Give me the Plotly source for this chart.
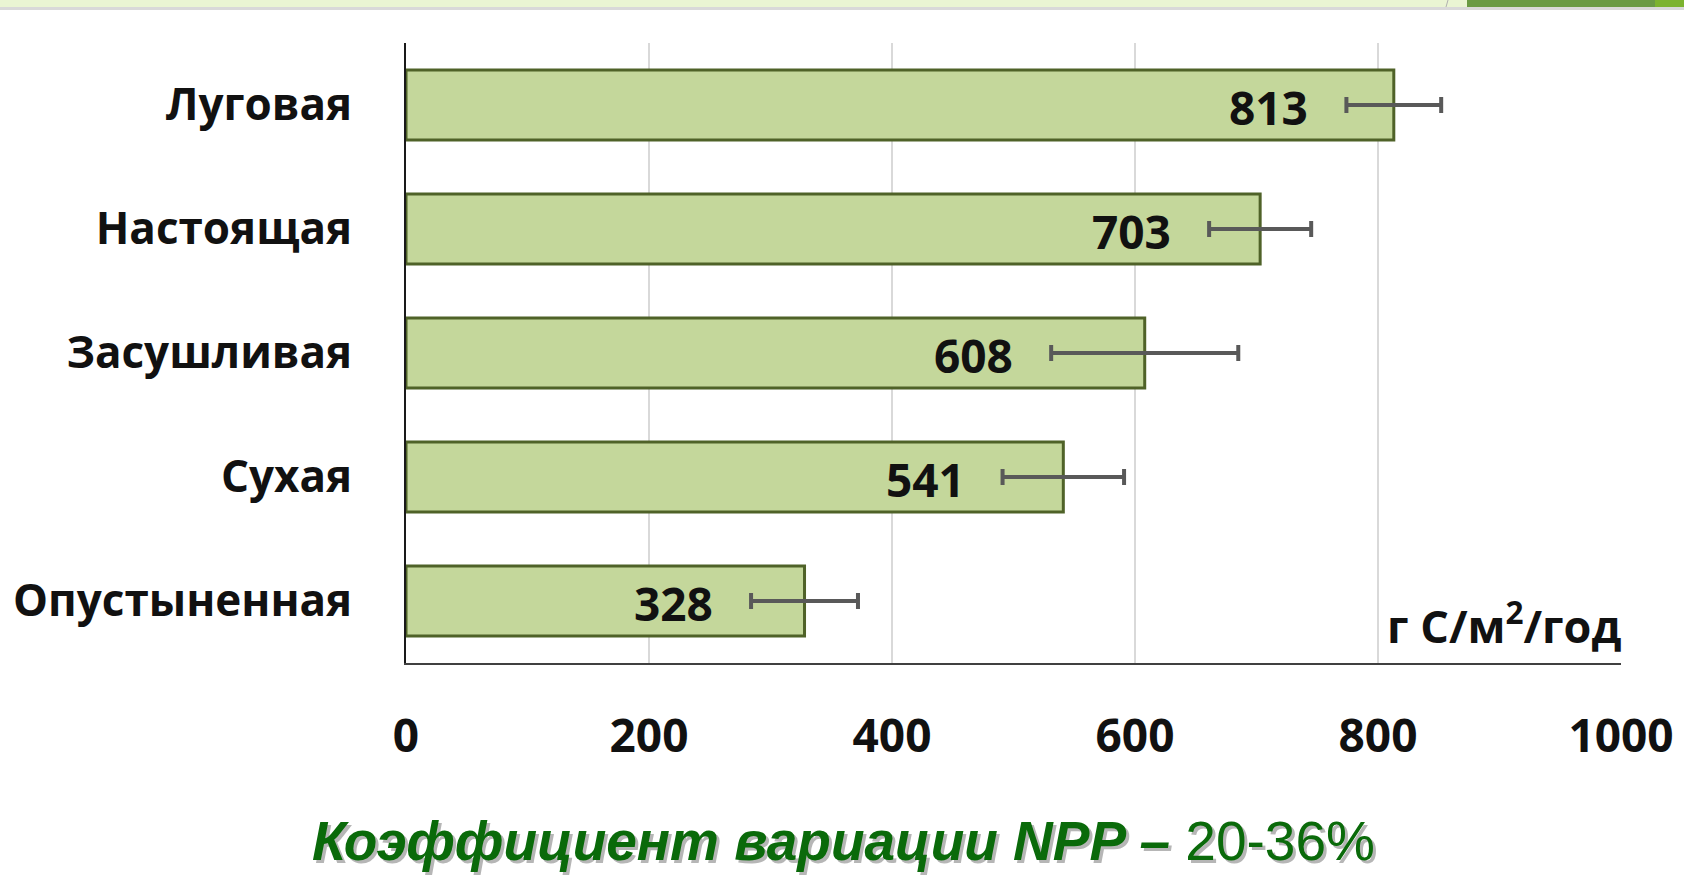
import plotly.graph_objects as go

categories = ["Луговая", "Настоящая", "Засушливая", "Сухая", "Опустыненная"]
npp_values = [813, 703, 608, 541, 328]
npp_errors = [39, 42, 77, 50, 44]
x_ticks = [0, 200, 400, 600, 800, 1000]
unit_label = "г С/м<sup>2</sup>/год"
caption_main = "Коэффициент вариации NPP –"
caption_range = "20-36%"

W, H = 1684, 879
L, R, T, B = 406, 63, 43, 216

FONT = "Open Sans"

fig = go.Figure()
fig.add_trace(go.Bar(
    y=categories,
    x=npp_values,
    orientation="h",
    marker=dict(color="#C4D79B", line=dict(color="#4F6228", width=3)),
    error_x=dict(type="data", array=npp_errors, visible=True,
                 color="#595959", thickness=4, width=8),
    hoverinfo="x+y",
))

# value labels, placed just left of the lower error bar cap
for c, v, e in zip(categories, npp_values, npp_errors):
    fig.add_annotation(
        x=v - e, y=c, xref="x", yref="y",
        text=f"<b>{v}</b>", showarrow=False,
        xanchor="right", yanchor="middle", xshift=-36, yshift=-2,
        font=dict(family=FONT, size=46, color="#111111"),
    )

# unit label
fig.add_annotation(
    x=1, y=0, xref="paper", yref="paper",
    text=f"<b>{unit_label}</b>", showarrow=False,
    xanchor="right", yanchor="bottom", yshift=5, xshift=2,
    font=dict(family=FONT, size=45, color="#111111"),
)

# caption with shadow
cap_text = f"<b><i>{caption_main}</i></b> {caption_range}"
cy = 1 - (841 - T) / (H - T - B)
cx = (843 - L) / (W - L - R)
fig.add_annotation(
    x=cx, y=cy, xref="paper", yref="paper", text=cap_text, showarrow=False,
    xanchor="center", yanchor="middle", xshift=3, yshift=-3,
    font=dict(family="Liberation Sans", size=55, color="rgba(110,110,110,0.5)"),
)
fig.add_annotation(
    x=cx, y=cy, xref="paper", yref="paper", text=cap_text, showarrow=False,
    xanchor="center", yanchor="middle",
    font=dict(family="Liberation Sans", size=55, color="#0A6A0A"),
)

# decorative header band
pw = W - L - R
ph = H - T - B
shapes = [
    dict(type="rect", xref="paper", yref="paper",
         x0=-L / pw, x1=1 + R / pw,
         y0=1 + (T - 7) / ph, y1=1 + T / ph,
         fillcolor="#EAF5D3", line=dict(width=0), layer="below"),
    dict(type="rect", xref="paper", yref="paper",
         x0=-L / pw, x1=1 + R / pw,
         y0=1 + (T - 10) / ph, y1=1 + (T - 7) / ph,
         fillcolor="#D9D9D9", line=dict(width=0), layer="below"),
    dict(type="line", xref="paper", yref="paper",
         x0=(1446 - L) / pw, x1=(1448 - L) / pw,
         y0=1 + (T - 7) / ph, y1=1 + T / ph,
         line=dict(color="#B0B0B0", width=1), layer="below"),
    dict(type="rect", xref="paper", yref="paper",
         x0=(1467 - L) / pw, x1=(1655 - L) / pw,
         y0=1 + (T - 7) / ph, y1=1 + T / ph,
         fillcolor="#6A9A44", line=dict(width=0), layer="below"),
    dict(type="rect", xref="paper", yref="paper",
         x0=(1655 - L) / pw, x1=1 + R / pw,
         y0=1 + (T - 7) / ph, y1=1 + T / ph,
         fillcolor="#7CB32F", line=dict(width=0), layer="below"),
]

fig.update_layout(
    width=W, height=H,
    margin=dict(l=L, r=R, t=T, b=B, pad=0, autoexpand=False),
    paper_bgcolor="white", plot_bgcolor="white",
    showlegend=False,
    bargap=0.435,
    shapes=shapes,
    font=dict(family=FONT, color="#111111"),
    xaxis=dict(
        range=[0, 1000], tickvals=x_ticks,
        ticktext=[f"<b>{t}</b>" for t in x_ticks],
        tickfont=dict(family=FONT, size=46, color="#111111"),
        showgrid=True, gridcolor="#D9D9D9", gridwidth=2,
        showline=True, linecolor="#404040", linewidth=2,
        zeroline=False, ticks="", ticklabelstandoff=32,
        automargin=False, fixedrange=True,
    ),
    yaxis=dict(
        categoryorder="array", categoryarray=categories,
        autorange="reversed",
        tickvals=categories,
        ticktext=[f"<b>{c}</b>" for c in categories],
        tickfont=dict(family=FONT, size=44, color="#111111"),
        showgrid=False,
        showline=True, linecolor="#1A1A1A", linewidth=2,
        ticks="", ticklabelstandoff=43,
        automargin=False, fixedrange=True,
    ),
)

fig.write_html(
    "out.html",
    config={"displayModeBar": False},
    post_script="document.body.style.margin='0';document.body.style.overflow='hidden';",
)
